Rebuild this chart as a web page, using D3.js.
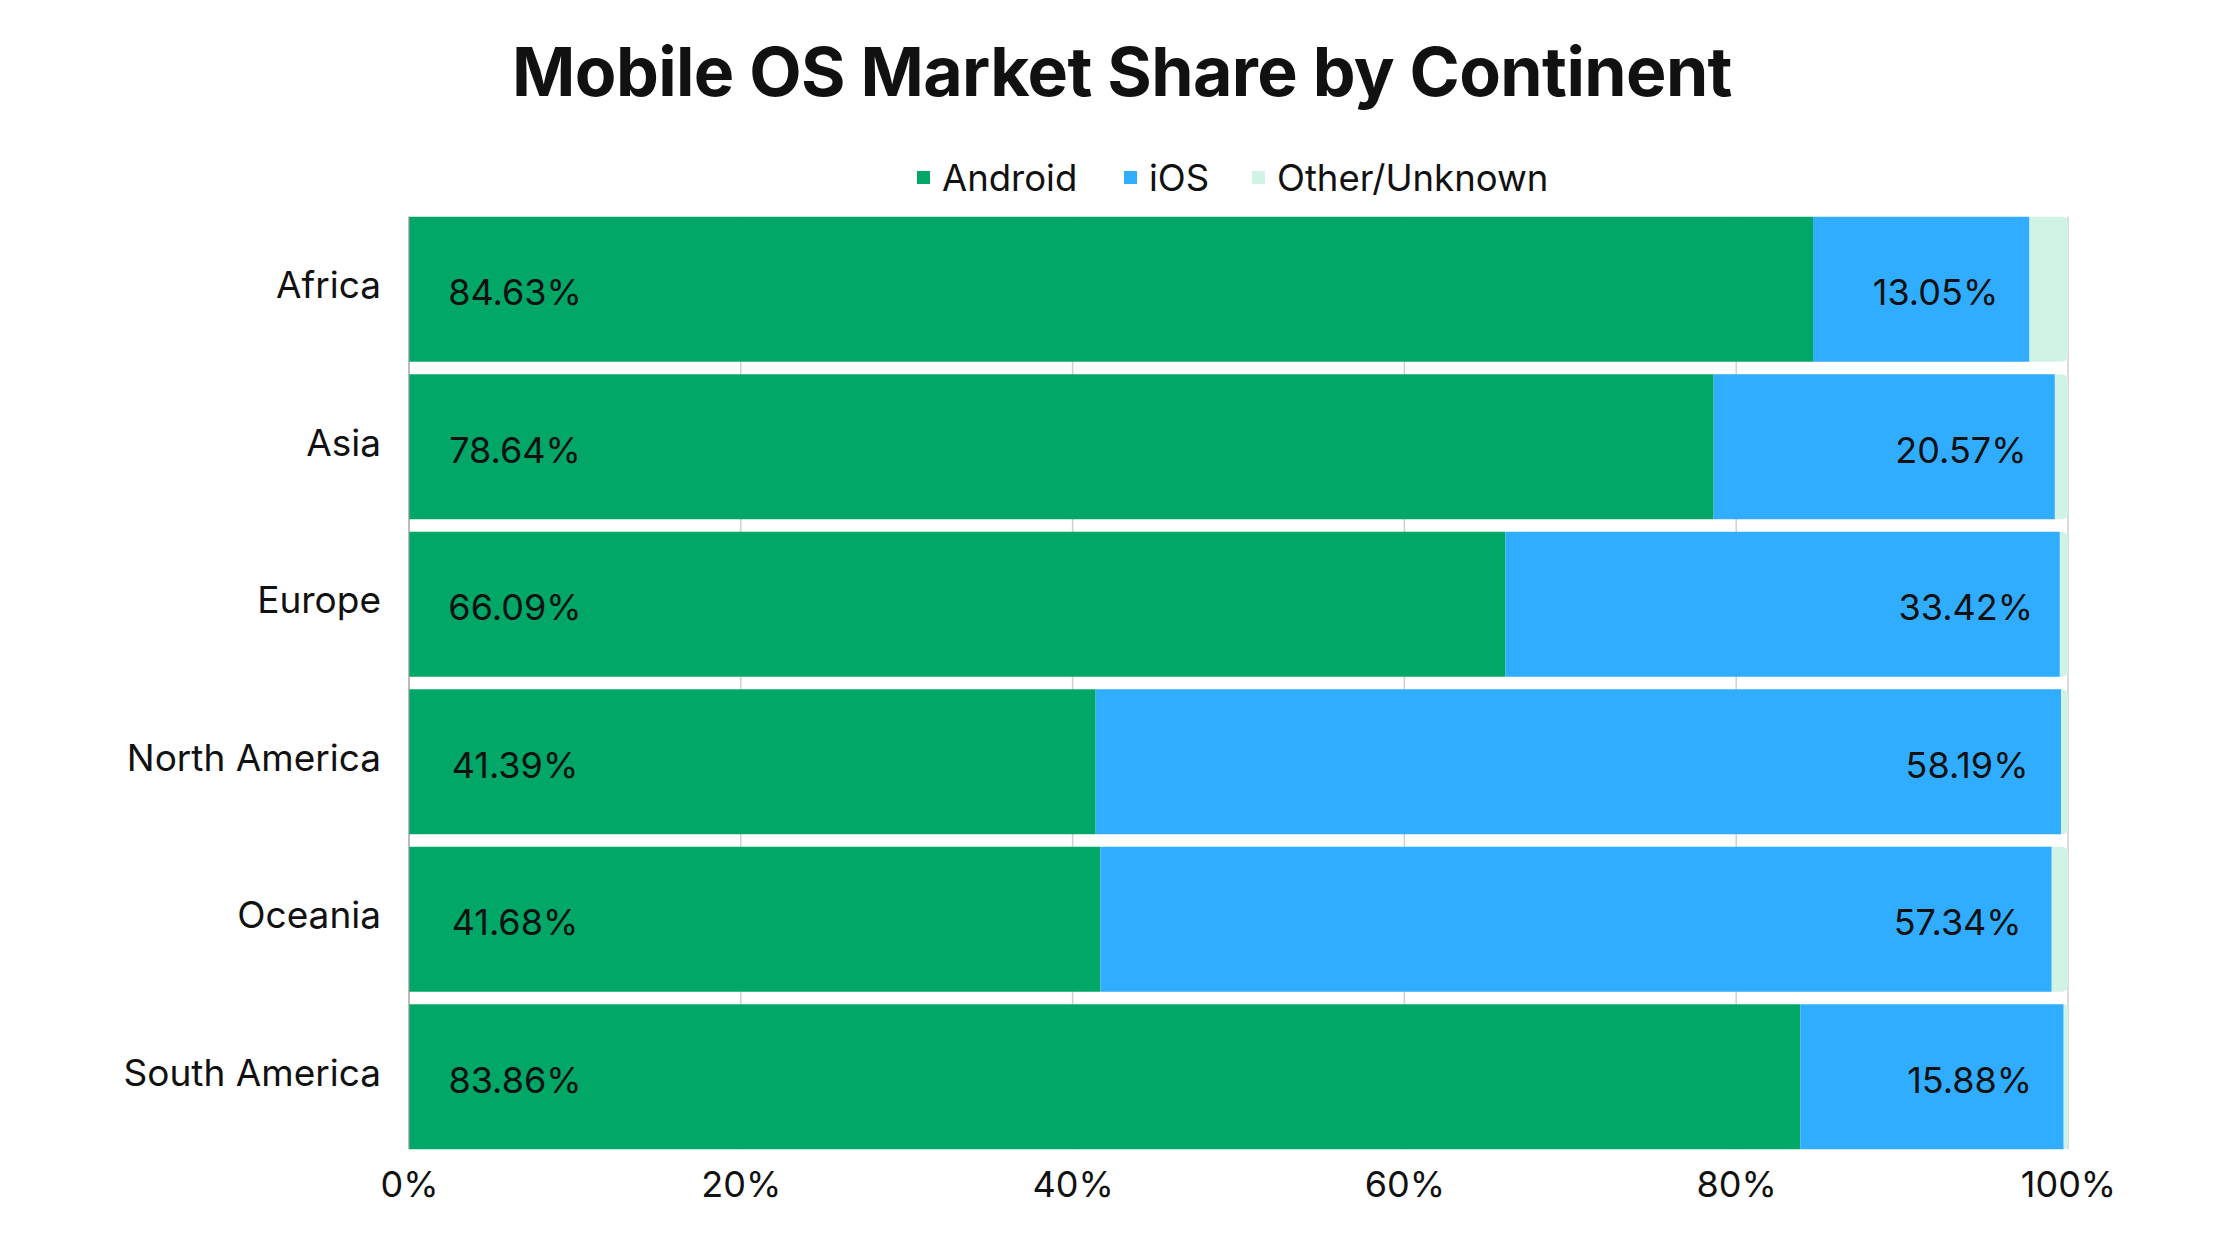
<!DOCTYPE html>
<html>
<head>
<meta charset="utf-8">
<script src="https://cdn.jsdelivr.net/npm/d3@7"></script>
<style>
  html, body { margin: 0; padding: 0; background: #ffffff; }
  svg { display: block; }
</style>
</head>
<body>
<svg id="chart" width="2240" height="1260"></svg>
<script>
const title = "Mobile OS Market Share by Continent";
const continents = ["Africa", "Asia", "Europe", "North America", "Oceania", "South America"];
const seriesNames = ["Android", "iOS", "Other/Unknown"];
const android = [84.63, 78.64, 66.09, 41.39, 41.68, 83.86];
const ios = [13.05, 20.57, 33.42, 58.19, 57.34, 15.88];
const other = [2.32, 0.79, 0.49, 0.42, 0.98, 0.26];
const xTicks = [0, 20, 40, 60, 80, 100];
const colors = ["#00a767", "#30adff", "#d0f3e5"];

const font = "Inter, 'Noto Sans', sans-serif";
const svg = d3.select("#chart");
const W = 2240, H = 1260;
const plotLeft = 409, plotRight = 2068, plotTop = 210.5, plotBottom = 1155.5;

svg.append("rect").attr("width", W).attr("height", H).attr("fill", "#ffffff");

const x = d3.scaleLinear().domain([0, 100]).range([plotLeft, plotRight]);
const y = d3.scaleBand().domain(continents).range([plotTop, plotBottom]).paddingInner(0.08).paddingOuter(0.04);

const gridTop = y(continents[0]);
const gridBottom = y(continents[continents.length - 1]) + y.bandwidth();

// gridlines
svg.append("g").selectAll("line").data(xTicks).join("line")
  .attr("x1", d => x(d)).attr("x2", d => x(d))
  .attr("y1", gridTop).attr("y2", gridBottom)
  .attr("stroke", "#cfcfcf").attr("stroke-width", 1.5);

const rows = continents.map((c, i) => ({ c, vals: [android[i], ios[i], other[i]] }));
const segs = [];
rows.forEach(r => {
  let acc = 0;
  r.vals.forEach((v, k) => {
    segs.push({ c: r.c, k, x0: acc, x1: acc + v, last: k === 2 });
    acc += v;
  });
});

function segPath(d) {
  const x0 = x(d.x0), x1 = x(d.x1), y0 = y(d.c), h = y.bandwidth();
  const w = x1 - x0;
  if (!d.last) return `M${x0},${y0}h${w}v${h}h${-w}Z`;
  const r = Math.min(6, w);
  return `M${x0},${y0}h${w - r}a${r},${r} 0 0 1 ${r},${r}v${h - 2 * r}a${r},${r} 0 0 1 ${-r},${r}h${-(w - r)}Z`;
}

svg.append("g").selectAll("path").data(segs).join("path")
  .attr("d", segPath)
  .attr("fill", d => colors[d.k]);

// left axis line
svg.append("line").attr("x1", plotLeft).attr("x2", plotLeft)
  .attr("y1", gridTop).attr("y2", gridBottom)
  .attr("stroke", "#9a9a9a").attr("stroke-width", 1);

// value labels
const labG = svg.append("g").attr("font-family", font).attr("font-size", 36).attr("fill", "#111");
labG.selectAll("text.a").data(rows).join("text").attr("class", "a")
  .attr("x", x(0) + 106)
  .attr("y", d => y(d.c) + y.bandwidth() / 2 + 16)
  .attr("text-anchor", "middle")
  .text(d => d.vals[0].toFixed(2) + "%");
labG.selectAll("text.b").data(rows).join("text").attr("class", "b")
  .attr("x", d => x(d.vals[0] + d.vals[1]) - 94)
  .attr("y", d => y(d.c) + y.bandwidth() / 2 + 16)
  .attr("text-anchor", "middle")
  .text(d => d.vals[1].toFixed(2) + "%");

// category labels
const yAxis = d3.axisLeft(y).tickSize(0).tickPadding(28);
const yg = svg.append("g").attr("transform", `translate(${plotLeft},0)`).call(yAxis);
yg.select(".domain").remove();
yg.selectAll("text").attr("font-family", font).attr("font-size", 37).attr("fill", "#111")
  .attr("dy", "0.24em");

// x axis ticks
const xAxis = d3.axisBottom(x).tickValues(xTicks).tickFormat(d => d + "%").tickSize(0).tickPadding(14);
const xg = svg.append("g").attr("transform", `translate(0,${gridBottom})`).call(xAxis);
xg.select(".domain").remove();
xg.selectAll("text").attr("font-family", font).attr("font-size", 36).attr("fill", "#111")
  .attr("dy", "0.95em");

// title
svg.append("text").attr("x", 1122).attr("y", 96).attr("text-anchor", "middle")
  .attr("font-family", font).attr("font-weight", 700).attr("font-size", 68).attr("fill", "#111")
  .attr("letter-spacing", -0.6)
  .text(title);

// legend
const legendX = [917, 1124, 1252];
const lg = svg.append("g").attr("font-family", font).attr("font-size", 36.5).attr("fill", "#111");
const items = lg.selectAll("g").data(seriesNames).join("g")
  .attr("transform", (d, i) => `translate(${legendX[i]},0)`);
items.append("rect").attr("x", 0).attr("y", 171).attr("width", 13).attr("height", 13)
  .attr("fill", (d, i) => colors[i]);
items.append("text").attr("x", 25).attr("y", 191).text(d => d);
</script>
</body>
</html>
